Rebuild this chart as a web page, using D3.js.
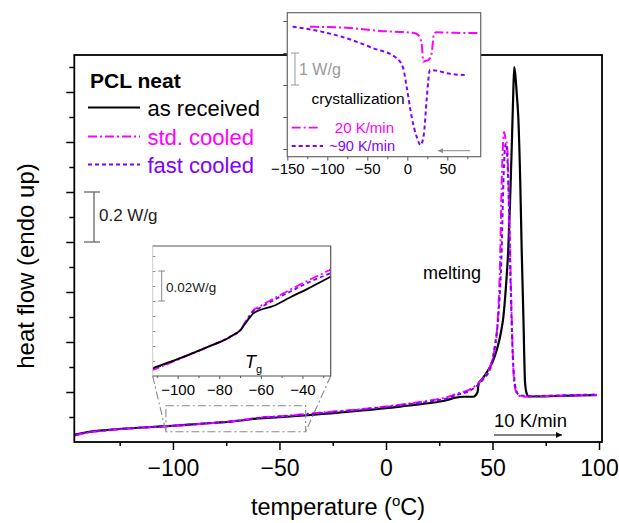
<!DOCTYPE html>
<html>
<head>
<meta charset="utf-8">
<script src="https://cdn.jsdelivr.net/npm/d3@7"></script>
<style>
body { margin: 0; background: #fff; }
svg text { font-family: "Liberation Sans", Arial, sans-serif; }
</style>
</head>
<body>
<script>
// main DSC heating curves, [temperature degC, heat flow W/g (offset)]
var asReceived = [[-146,0.030],[-140,0.040],[-130,0.049],[-120,0.055],[-110,0.060],[-100,0.065],[-90,0.071],
  [-80,0.077],[-72,0.082],[-66,0.088],[-60,0.094],[-50,0.099],[-40,0.105],[-30,0.112],[-20,0.119],[-10,0.127],
  [0,0.135],[10,0.145],[20,0.155],[28,0.166],[33,0.178],[36,0.181],[41,0.181],[43,0.200],[43.5,0.235],[45,0.250],
  [48,0.288],[50,0.320],[52,0.368],[54,0.440],[55.1,0.500],[56.3,0.620],[57.4,0.770],[58.2,0.950],[59,1.170],
  [59.7,1.380],[60.2,1.500],[60.8,1.460],[61.5,1.380],[62.1,1.300],[63,1.050],[63.7,0.770],[64.5,0.500],
  [65.3,0.235],[66.2,0.190],[67,0.182],[70,0.182],[80,0.184],[90,0.186],[99,0.188]];
var stdCooled = [[-146,0.026],[-140,0.037],[-130,0.047],[-120,0.054],[-110,0.059],[-100,0.064],[-90,0.070],
  [-80,0.077],[-72,0.083],[-66,0.090],[-60,0.097],[-50,0.103],[-40,0.110],[-30,0.118],[-20,0.125],[-10,0.133],
  [0,0.142],[10,0.153],[20,0.165],[30,0.183],[33.8,0.195],[38,0.205],[41.2,0.221],[44,0.240],[46,0.260],
  [48.8,0.300],[50.5,0.350],[52,0.435],[53,0.580],[53.5,0.700],[54.3,1.035],[55,1.200],[55.4,1.240],[56,1.220],
  [57,1.168],[57.9,0.900],[59,0.500],[60.2,0.235],[61.4,0.195],[62.5,0.185],[64.5,0.181],[70,0.183],
  [80,0.185],[90,0.187],[99,0.189]];
var fastCooled = [[-146,0.028],[-140,0.039],[-130,0.048],[-120,0.055],[-110,0.060],[-100,0.065],[-90,0.071],
  [-80,0.077],[-72,0.083],[-66,0.089],[-60,0.096],[-50,0.102],[-40,0.108],[-30,0.116],[-20,0.123],[-10,0.131],
  [0,0.140],[10,0.150],[20,0.161],[30,0.178],[33.8,0.190],[38,0.200],[41.2,0.215],[44,0.235],[46,0.255],
  [48.8,0.290],[51,0.380],[52.7,0.500],[54.3,0.768],[55.1,1.035],[55.8,1.170],[56.3,1.195],[56.9,1.150],
  [57.4,1.035],[58.5,0.635],[59.8,0.300],[61.4,0.200],[63,0.185],[70,0.184],[80,0.186],[90,0.188],[99,0.190]];

// glass transition inset
var tgAsReceived = [[-113,0.0045],[-112,0.0051],[-100,0.0113],[-86,0.0191],[-75,0.0258],[-72,0.0285],[-70,0.0302],
  [-68,0.0340],[-66.8,0.0362],[-63.6,0.0418],[-60.4,0.0440],[-54,0.0467],[-46,0.0524],[-38,0.0578],[-26,0.0665]];
var tgStd = [[-113,0.0035],[-112,0.0040],[-100,0.0108],[-86,0.0190],[-75,0.0260],[-70,0.0305],[-66.8,0.0375],
  [-63.6,0.0440],[-60.4,0.0465],[-54,0.0515],[-46,0.0575],[-38,0.0632],[-26,0.0712]];
var tgFast = [[-113,0.0041],[-112,0.0046],[-100,0.0112],[-86,0.0192],[-75,0.0260],[-70,0.0303],[-66.8,0.0370],
  [-63.6,0.0432],[-60.4,0.0455],[-54,0.0505],[-46,0.0562],[-38,0.0618],[-26,0.0688]];

// crystallization inset (cooling)
var cryst20 = [[-121.6,3.82],[-75.8,3.79],[-34.2,3.69],[7.4,3.63],[13.7,3.56],[17.9,3.30],[20,2.73],[23,2.76],
  [26.2,2.78],[30.4,2.99],[33.3,3.61],[36.7,3.65],[60,3.63],[90,3.625]];
var cryst90 = [[-143.3,3.82],[-117.5,3.72],[-75.8,3.46],[-42.5,3.15],[-13.4,2.84],[-5.1,2.52],[-0.9,1.95],
  [5.4,1.01],[11.6,0.39],[16.6,0.125],[20.8,0.49],[24.1,1.53],[28.3,2.47],[36.7,2.45],[49.2,2.37],[72,2.31]];

var mainXMajor = [-100, -50, 0, 50, 100];
var mainXMinor = [-125, -75, -25, 25, 75];
var mainYMajor = [0.2, 0.4, 0.6, 0.8, 1.0, 1.2, 1.4];
var mainYMinor = [0.1, 0.3, 0.5, 0.7, 0.9, 1.1, 1.3, 1.5];
var tgXMajor = [-100, -80, -60, -40];
var tgXMinor = [-110, -90, -70, -50, -30];
var tgYTicks = [0.01, 0.02, 0.03, 0.04, 0.05, 0.06, 0.07, 0.08];
var crXMajor = [-150, -100, -50, 0, 50];
var crXMinor = [-125, -75, -25, 25, 75];
var crYTicks = [0, 1, 2, 3, 4];

var MAG = '#ff00ff', PUR = '#8000ff';
var dashDot = '9,3,2,3', dashed = '4,3';

var svg = d3.select('body').append('svg')
  .attr('width', 619)
  .attr('height', 523);

var defs = svg.append('defs');
defs.append('marker').attr('id', 'arrBlack')
  .attr('viewBox', '0 0 10 10').attr('refX', 10).attr('refY', 5)
  .attr('markerWidth', 10).attr('markerHeight', 6).attr('markerUnits', 'userSpaceOnUse')
  .attr('orient', 'auto')
  .append('path').attr('d', 'M0,0L10,5L0,10z').attr('fill', '#000');
defs.append('marker').attr('id', 'arrGray')
  .attr('viewBox', '0 0 10 10').attr('refX', 10).attr('refY', 5)
  .attr('markerWidth', 8).attr('markerHeight', 5).attr('markerUnits', 'userSpaceOnUse')
  .attr('orient', 'auto')
  .append('path').attr('d', 'M0,0L10,5L0,10z').attr('fill', '#888');

// ---- main plot
var x = d3.scaleLinear().domain([-146.3, 101.4]).range([74.3, 602]);
var y = d3.scaleLinear().domain([0, 1.548]).range([442, 55]);

var line = d3.line()
  .x(function(d) { return x(d[0]); })
  .y(function(d) { return y(d[1]); })
  .curve(d3.curveMonotoneX);

svg.append('clipPath').attr('id', 'clipMain')
  .append('rect').attr('x', 74.3).attr('y', 55).attr('width', 602 - 74.3).attr('height', 442 - 55);

var curves = svg.append('g').attr('clip-path', 'url(#clipMain)');
curves.append('path').datum(asReceived).attr('d', line)
  .attr('fill', 'none').attr('stroke', '#000').attr('stroke-width', 2.2);
curves.append('path').datum(stdCooled).attr('d', line)
  .attr('fill', 'none').attr('stroke', MAG).attr('stroke-width', 2).attr('stroke-dasharray', dashDot);
curves.append('path').datum(fastCooled).attr('d', line)
  .attr('fill', 'none').attr('stroke', PUR).attr('stroke-width', 2).attr('stroke-dasharray', dashed);

svg.append('g').attr('transform', 'translate(0,442)')
  .call(d3.axisBottom(x).tickValues(mainXMajor).tickSize(8).tickPadding(10))
  .call(function(g) { g.select('.domain').remove(); })
  .call(function(g) { g.selectAll('line').attr('stroke-width', 1.5); })
  .selectAll('text').style('font-size', '23px').attr('fill', '#000');
svg.append('g').attr('transform', 'translate(0,442)')
  .call(d3.axisBottom(x).tickValues(mainXMinor).tickSize(4).tickFormat(''))
  .call(function(g) { g.select('.domain').remove(); })
  .selectAll('line').attr('stroke-width', 1.5);
svg.append('g').attr('transform', 'translate(74.3,0)')
  .call(d3.axisLeft(y).tickValues(mainYMajor).tickSize(8).tickFormat(''))
  .call(function(g) { g.select('.domain').remove(); })
  .selectAll('line').attr('stroke-width', 1.5);
svg.append('g').attr('transform', 'translate(74.3,0)')
  .call(d3.axisLeft(y).tickValues(mainYMinor).tickSize(5).tickFormat(''))
  .call(function(g) { g.select('.domain').remove(); })
  .selectAll('line').attr('stroke-width', 1.5);

svg.append('rect')
  .attr('x', 74.3).attr('y', 55).attr('width', 602 - 74.3).attr('height', 442 - 55)
  .attr('fill', 'none').attr('stroke', '#000').attr('stroke-width', 1.8);

// axis titles
var xt = svg.append('text')
  .attr('x', 338).attr('y', 515)
  .attr('text-anchor', 'middle')
  .style('font-size', '23.5px');
xt.append('tspan').text('temperature (');
xt.append('tspan').attr('dy', -9).style('font-size', '15px').text('o');
xt.append('tspan').attr('dy', 9).text('C)');

svg.append('text')
  .attr('transform', 'translate(34,266) rotate(-90)')
  .attr('text-anchor', 'middle')
  .style('font-size', '24px')
  .text('heat flow (endo up)');

// legend
svg.append('text').attr('x', 90).attr('y', 88)
  .style('font-size', '21px').style('font-weight', 'bold').text('PCL neat');
var legend = [
  {label: 'as received', color: '#000', dash: null, tc: '#000', y: 107.5},
  {label: 'std. cooled', color: MAG, dash: dashDot, tc: MAG, y: 136.5},
  {label: 'fast cooled', color: PUR, dash: dashed, tc: PUR, y: 164.5}
];
legend.forEach(function(l) {
  svg.append('line')
    .attr('x1', 88).attr('x2', 140).attr('y1', l.y).attr('y2', l.y)
    .attr('stroke', l.color).attr('stroke-width', 2)
    .attr('stroke-dasharray', l.dash);
  svg.append('text').attr('x', 147.5).attr('y', l.y + 8)
    .style('font-size', '22px').attr('fill', l.tc).text(l.label);
});

// 0.2 W/g scale bar
var sb = svg.append('g').attr('stroke', '#666').attr('stroke-width', 1.3);
sb.append('line').attr('x1', 94).attr('x2', 94).attr('y1', y(1.0)).attr('y2', y(0.8));
sb.append('line').attr('x1', 84).attr('x2', 100).attr('y1', y(1.0)).attr('y2', y(1.0));
sb.append('line').attr('x1', 84).attr('x2', 100).attr('y1', y(0.8)).attr('y2', y(0.8));
svg.append('text').attr('x', 99).attr('y', 221)
  .style('font-size', '17px').attr('fill', '#222').text('0.2 W/g');

svg.append('text').attr('x', 423).attr('y', 279)
  .style('font-size', '18px').text('melting');
svg.append('text').attr('x', 494).attr('y', 427)
  .style('font-size', '18.5px').text('10 K/min');
svg.append('line').attr('x1', 494).attr('x2', 562).attr('y1', 435).attr('y2', 435)
  .attr('stroke', '#000').attr('stroke-width', 1.2).attr('marker-end', 'url(#arrBlack)');

// ---- zoom box and connectors for Tg inset
var xi = d3.scaleLinear().domain([-112, -26.4]).range([152.7, 330.7]);
var yi = d3.scaleLinear().domain([0, 0.0867]).range([376, 246]);

var boxT = [-103.3, -37.7], boxV = [0.041, 0.145];
var zb = svg.append('g').attr('fill', 'none').attr('stroke', '#888')
  .attr('stroke-width', 1.1).attr('stroke-dasharray', '8,3,2,3');
zb.append('rect')
  .attr('x', x(boxT[0])).attr('y', y(boxV[1]))
  .attr('width', x(boxT[1]) - x(boxT[0])).attr('height', y(boxV[0]) - y(boxV[1]));
zb.append('line').attr('x1', xi.range()[0]).attr('y1', yi(0))
  .attr('x2', x(boxT[0])).attr('y2', y(boxV[0]));
zb.append('line').attr('x1', xi.range()[1]).attr('y1', yi(0))
  .attr('x2', x(boxT[1])).attr('y2', y(boxV[0]));

// ---- Tg inset
svg.append('rect').attr('x', 152.7).attr('y', 246).attr('width', 178).attr('height', 130)
  .attr('fill', '#fff');
svg.append('clipPath').attr('id', 'clipTg')
  .append('rect').attr('x', 152.7).attr('y', 246).attr('width', 178).attr('height', 130);

var lineTg = d3.line()
  .x(function(d) { return xi(d[0]); })
  .y(function(d) { return yi(d[1]); })
  .curve(d3.curveMonotoneX);
var tgG = svg.append('g').attr('clip-path', 'url(#clipTg)');
tgG.append('path').datum(tgStd).attr('d', lineTg)
  .attr('fill', 'none').attr('stroke', MAG).attr('stroke-width', 1.8).attr('stroke-dasharray', dashDot);
tgG.append('path').datum(tgFast).attr('d', lineTg)
  .attr('fill', 'none').attr('stroke', PUR).attr('stroke-width', 1.8).attr('stroke-dasharray', dashed);
tgG.append('path').datum(tgAsReceived).attr('d', lineTg)
  .attr('fill', 'none').attr('stroke', '#000').attr('stroke-width', 1.8);

svg.append('g').attr('transform', 'translate(0,376)')
  .call(d3.axisBottom(xi).tickValues(tgXMajor).tickSize(3).tickPadding(5))
  .call(function(g) { g.select('.domain').remove(); })
  .call(function(g) { g.selectAll('line').attr('stroke', '#555'); })
  .selectAll('text').style('font-size', '15px').attr('fill', '#000');
svg.append('g').attr('transform', 'translate(0,376)')
  .call(d3.axisBottom(xi).tickValues(tgXMinor).tickSize(2).tickFormat(''))
  .call(function(g) { g.select('.domain').remove(); })
  .selectAll('line').attr('stroke', '#555');
svg.append('g').attr('transform', 'translate(152.7,0)')
  .call(d3.axisRight(yi).tickValues(tgYTicks).tickSize(2.5).tickFormat(''))
  .call(function(g) { g.select('.domain').remove(); })
  .selectAll('line').attr('stroke', '#888');

svg.append('line').attr('x1', 152.7).attr('x2', 152.7).attr('y1', 246).attr('y2', 376)
  .attr('stroke', '#ccc').attr('stroke-width', 1);
svg.append('path').attr('d', 'M152.7,246H330.7V376H152.7')
  .attr('fill', 'none').attr('stroke', '#555').attr('stroke-width', 1.2);

var sb2 = svg.append('g').attr('stroke', '#888').attr('stroke-width', 1);
sb2.append('line').attr('x1', 161.7).attr('x2', 161.7).attr('y1', yi(0.07)).attr('y2', yi(0.05));
sb2.append('line').attr('x1', 158.3).attr('x2', 165).attr('y1', yi(0.07)).attr('y2', yi(0.07));
sb2.append('line').attr('x1', 158.3).attr('x2', 165).attr('y1', yi(0.05)).attr('y2', yi(0.05));
svg.append('text').attr('x', 166).attr('y', 292)
  .style('font-size', '13.5px').attr('fill', '#222').text('0.02W/g');

var tg = svg.append('text').attr('x', 245).attr('y', 368).style('font-size', '18px');
tg.append('tspan').style('font-style', 'italic').text('T');
tg.append('tspan').attr('dy', 5).style('font-size', '11px').text('g');

// ---- crystallization inset
var xc = d3.scaleLinear().domain([-150, 91.7]).range([287.3, 480.7]);
var yc = d3.scaleLinear().domain([-0.24, 4.26]).range([156.7, 12.7]);

svg.append('rect').attr('x', 287.3).attr('y', 12.7).attr('width', 480.7 - 287.3).attr('height', 144)
  .attr('fill', '#fff');
svg.append('clipPath').attr('id', 'clipCr')
  .append('rect').attr('x', 287.3).attr('y', 12.7).attr('width', 480.7 - 287.3).attr('height', 144);

var lineCr = d3.line()
  .x(function(d) { return xc(d[0]); })
  .y(function(d) { return yc(d[1]); })
  .curve(d3.curveMonotoneX);
var crG = svg.append('g').attr('clip-path', 'url(#clipCr)');
crG.append('path').datum(cryst20).attr('d', lineCr)
  .attr('fill', 'none').attr('stroke', MAG).attr('stroke-width', 2).attr('stroke-dasharray', dashDot);
crG.append('path').datum(cryst90).attr('d', lineCr)
  .attr('fill', 'none').attr('stroke', PUR).attr('stroke-width', 2).attr('stroke-dasharray', dashed);

svg.append('g').attr('transform', 'translate(0,156.7)')
  .call(d3.axisBottom(xc).tickValues(crXMajor).tickSize(4).tickPadding(3))
  .call(function(g) { g.select('.domain').remove(); })
  .call(function(g) { g.selectAll('line').attr('stroke', '#555'); })
  .selectAll('text').style('font-size', '15px').attr('fill', '#000');
svg.append('g').attr('transform', 'translate(0,156.7)')
  .call(d3.axisBottom(xc).tickValues(crXMinor).tickSize(2.5).tickFormat(''))
  .call(function(g) { g.select('.domain').remove(); })
  .selectAll('line').attr('stroke', '#555');
svg.append('g').attr('transform', 'translate(287.3,0)')
  .call(d3.axisLeft(yc).tickValues(crYTicks).tickSize(4).tickFormat(''))
  .call(function(g) { g.select('.domain').remove(); })
  .selectAll('line').attr('stroke', '#555');

svg.append('rect').attr('x', 287.3).attr('y', 12.7).attr('width', 480.7 - 287.3).attr('height', 144)
  .attr('fill', 'none').attr('stroke', '#666').attr('stroke-width', 1.2);

var sb3 = svg.append('g').attr('stroke', '#999').attr('stroke-width', 1);
sb3.append('line').attr('x1', 295).attr('x2', 295).attr('y1', yc(3)).attr('y2', yc(2));
sb3.append('line').attr('x1', 291).attr('x2', 299).attr('y1', yc(3)).attr('y2', yc(3));
sb3.append('line').attr('x1', 291).attr('x2', 299).attr('y1', yc(2)).attr('y2', yc(2));
svg.append('text').attr('x', 299).attr('y', 75)
  .style('font-size', '16px').attr('fill', '#999').text('1 W/g');

svg.append('text').attr('x', 311.5).attr('y', 104)
  .style('font-size', '15.5px').text('crystallization');

svg.append('line').attr('x1', 291.7).attr('x2', 320).attr('y1', 127.7).attr('y2', 127.7)
  .attr('stroke', MAG).attr('stroke-width', 1.8).attr('stroke-dasharray', dashDot);
svg.append('text').attr('x', 394).attr('y', 133).attr('text-anchor', 'end')
  .style('font-size', '15px').attr('fill', MAG).text('20 K/min');
svg.append('line').attr('x1', 291.7).attr('x2', 323).attr('y1', 146).attr('y2', 146)
  .attr('stroke', PUR).attr('stroke-width', 1.8).attr('stroke-dasharray', dashed);
svg.append('text').attr('x', 395).attr('y', 151).attr('text-anchor', 'end')
  .style('font-size', '14.5px').attr('fill', PUR).text('~90 K/min');

svg.append('line').attr('x1', 470).attr('x2', 438).attr('y1', 150.7).attr('y2', 150.7)
  .attr('stroke', '#888').attr('stroke-width', 1).attr('marker-end', 'url(#arrGray)');
</script>
</body>
</html>
